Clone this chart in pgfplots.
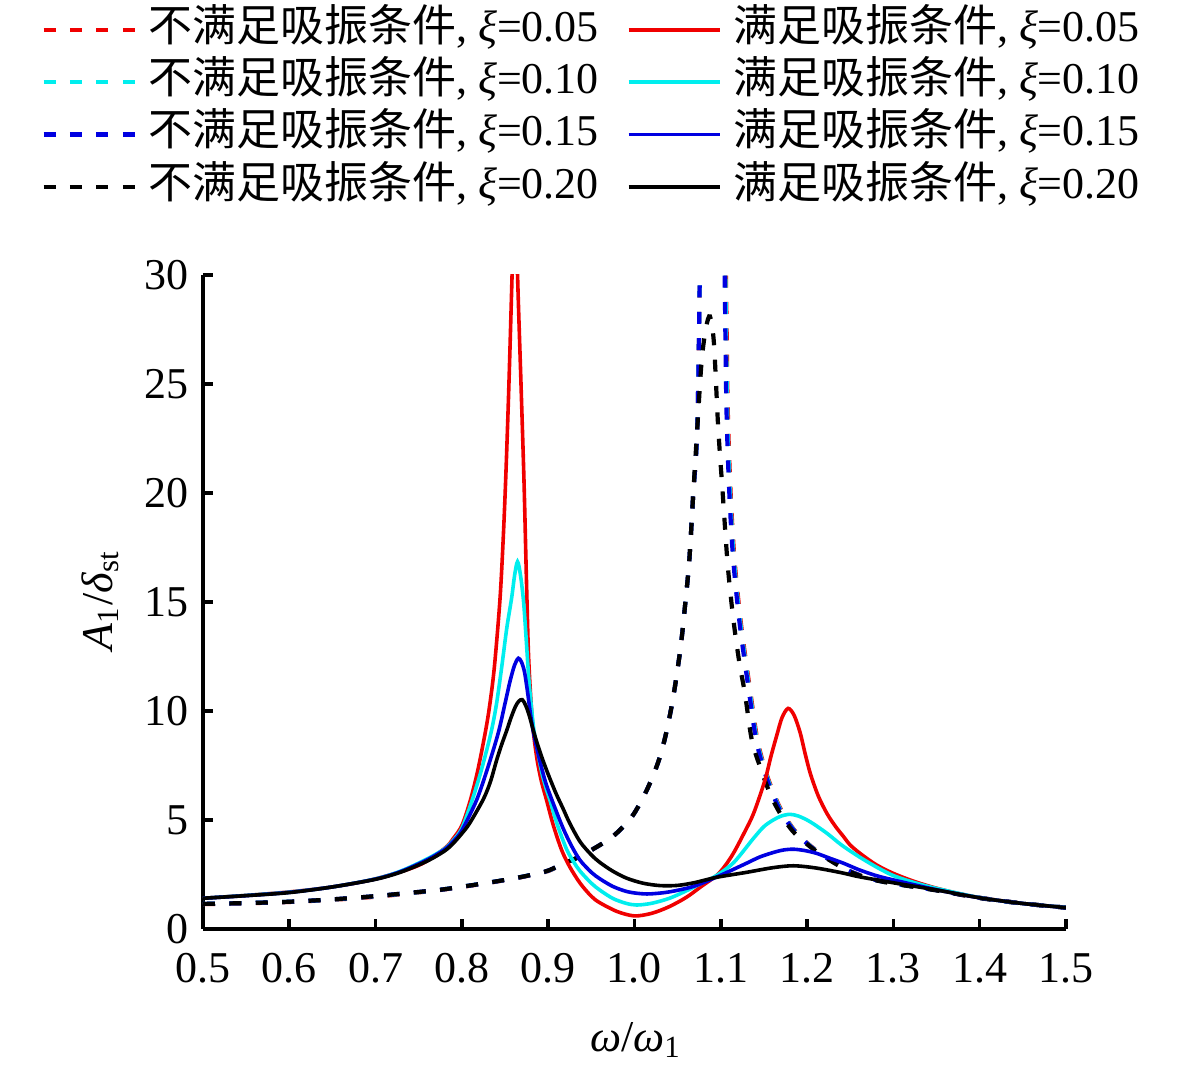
\documentclass[border=0pt]{standalone}
\usepackage{fontspec}
\setmainfont{Liberation Serif}
\newfontfamily\cjk{Noto Sans CJK SC}
\usepackage{pgfplots}
\pgfplotsset{compat=1.18}
\definecolor{cR}{RGB}{240,0,0}
\definecolor{cC}{RGB}{0,238,238}
\definecolor{cB}{RGB}{0,0,225}
\tikzset{dsh/.style={line width=1.05pt, dash pattern=on 3pt off 3.6pt},
         sld/.style={line width=0.9pt}}
\begin{document}
\begin{tikzpicture}
\begin{axis}[
  at={(0pt,0pt)}, anchor=south west,
  scale only axis, width=215.75pt, height=163.5pt,
  xmin=0.5, xmax=1.5, ymin=0, ymax=30,
  axis lines*=left,
  axis line style={line width=0.9pt},
  tick style={line width=0.9pt, black},
  major tick length=2.5pt,
  tick align=inside,
  xtick={0.5,0.6,0.7,0.8,0.9,1.0,1.1,1.2,1.3,1.4,1.5},
  ytick={0,5,10,15,20,25,30},
  tick label style={font=\fontsize{11}{13}\selectfont},
  /pgf/number format/assume math mode=true,
  xticklabel style={yshift=-2.5pt, /pgf/number format/.cd, fixed, fixed zerofill, precision=1},
  yticklabel style={/pgf/number format/.cd, fixed, precision=0},
  ylabel={\textit{A}\textsubscript{1}/\textit{δ}\textsubscript{st}},
  ylabel style={at={(axis description cs:-0.1188,0.503)}, anchor=center, font=\fontsize{11}{13}\selectfont},
  xlabel={\textit{ω}/\textit{ω}\textsubscript{1}},
  xlabel style={at={(axis description cs:0.5017,-0.1697)}, anchor=center, font=\fontsize{11}{13}\selectfont},
  legend columns=2,
  legend cell align=left,
  legend image code/.code={\draw[#1] (0pt,0pt) -- (22.75pt,0pt);},
  legend style={draw=none, fill=none, inner sep=0pt, outer sep=0pt,
    at={(axis description cs:-0.18714,1.41468)}, anchor=north west,
    font=\fontsize{11}{13}\selectfont,
    column sep=1.45pt, row sep=0pt,
    nodes={inner sep=1.45pt, text height=7.9pt, text depth=2.28pt},
    /tikz/every even column/.append style={column sep=5.55pt}},
]
% ---------------- dashed (not satisfying) ----------------
\addplot[cR, dsh, smooth, forget plot] coordinates {
(0.50,1.14) (0.55,1.18) (0.60,1.24) (0.65,1.34) (0.70,1.48) (0.75,1.68) (0.775,1.79) (0.80,1.93)
(0.83,2.11) (0.86,2.31) (0.88,2.47) (0.90,2.66) (0.92,3.03) (0.93,3.2) (0.95,3.62) (0.975,4.25)
(0.997,5.15) (1.014,6.35) (1.027,7.6) (1.035,8.7) (1.042,10.0) (1.048,11.4) (1.054,13.1) (1.059,15.0)
(1.0635,16.9) (1.068,19.9) (1.0728,23.0) (1.0759,30.5) (1.080,42) (1.085,70) (1.09,110) (1.096,70)
(1.1015,42) (1.1058,30.5) (1.108,24) (1.1114,20.0) (1.116,16.9) (1.1237,13.9) (1.1345,10.8)
(1.1423,8.7) (1.1515,7.3) (1.1615,6.2) (1.1715,5.35) (1.186,4.5) (1.2044,3.8) (1.2235,3.26)
(1.25,2.65) (1.275,2.3) (1.30,2.1) (1.35,1.78) (1.40,1.43) (1.45,1.17) (1.50,0.98)};
\addplot[cC, dsh, smooth, forget plot] coordinates {
(0.50,1.15) (0.55,1.19) (0.60,1.25) (0.65,1.35) (0.70,1.50) (0.75,1.69) (0.775,1.80) (0.80,1.94)
(0.83,2.12) (0.86,2.32) (0.88,2.48) (0.90,2.67) (0.92,3.04) (0.93,3.2) (0.95,3.62) (0.975,4.25)
(0.997,5.15) (1.014,6.35) (1.027,7.6) (1.035,8.7) (1.042,10.0) (1.048,11.4) (1.054,13.1) (1.059,15.0)
(1.0635,16.9) (1.068,19.9) (1.0728,23.0) (1.0759,30.5) (1.080,42) (1.085,70) (1.09,110) (1.0955,70)
(1.1008,42) (1.1051,30.5) (1.1073,24) (1.1107,20.0) (1.1153,16.9) (1.123,13.9) (1.1338,10.8)
(1.1416,8.7) (1.1508,7.3) (1.1608,6.2) (1.1708,5.35) (1.1855,4.5) (1.2039,3.8) (1.223,3.26)
(1.25,2.64) (1.275,2.29) (1.30,2.09) (1.35,1.78) (1.40,1.43) (1.45,1.17) (1.50,0.98)};
\addplot[cB, dsh, smooth, forget plot] coordinates {
(0.50,1.15) (0.55,1.19) (0.60,1.25) (0.65,1.36) (0.70,1.51) (0.75,1.70) (0.775,1.80) (0.80,1.94)
(0.83,2.12) (0.86,2.32) (0.88,2.48) (0.90,2.68) (0.92,3.05) (0.93,3.2) (0.95,3.62) (0.975,4.25)
(0.997,5.15) (1.014,6.35) (1.027,7.6) (1.035,8.7) (1.042,10.0) (1.048,11.4) (1.054,13.1) (1.059,15.0)
(1.0635,16.9) (1.068,19.9) (1.0728,23.0) (1.0759,30.5) (1.080,42) (1.085,70) (1.09,110) (1.095,70)
(1.100,42) (1.1043,30.5) (1.1065,24) (1.1099,20.0) (1.1145,16.9) (1.1222,13.9) (1.133,10.8)
(1.1408,8.7) (1.150,7.3) (1.160,6.2) (1.170,5.35) (1.185,4.5) (1.2034,3.8) (1.2227,3.26)
(1.25,2.64) (1.275,2.29) (1.30,2.09) (1.35,1.78) (1.40,1.43) (1.45,1.17) (1.50,0.98)};
\addplot[black, dsh, smooth, forget plot] coordinates {
(0.50,1.15) (0.55,1.19) (0.60,1.25) (0.65,1.36) (0.70,1.51) (0.75,1.70) (0.775,1.80) (0.80,1.94)
(0.83,2.12) (0.86,2.32) (0.88,2.48) (0.90,2.68) (0.92,3.05) (0.93,3.2) (0.95,3.62) (0.975,4.25)
(0.997,5.15) (1.014,6.35) (1.027,7.6) (1.035,8.7) (1.042,10.0) (1.048,11.4) (1.054,13.1) (1.059,15.0)
(1.0635,16.9) (1.068,19.9) (1.0728,23.0) (1.0779,26.1) (1.083,27.6) (1.0875,28.1) (1.092,26.9)
(1.097,23.0) (1.1022,20.0) (1.1076,16.9) (1.112,15.1) (1.1165,13.6) (1.122,12.1) (1.128,10.8)
(1.1358,8.7) (1.1454,7.45) (1.157,6.22) (1.1686,5.31) (1.184,4.46) (1.2034,3.78) (1.2227,3.24)
(1.25,2.62) (1.275,2.28) (1.30,2.08) (1.35,1.77) (1.40,1.42) (1.45,1.17) (1.50,0.98)};
% ---------------- solid (satisfying) ----------------
\addplot[cR, sld, smooth, forget plot] coordinates {
(0.50,1.41) (0.55,1.54) (0.60,1.70) (0.65,1.93) (0.70,2.30) (0.75,2.92) (0.78,3.7) (0.79,4.15)
(0.80,4.75) (0.8094,5.85) (0.818,7.2) (0.8268,8.95) (0.832,10.2) (0.8376,12.0) (0.8441,15.1)
(0.848,18.0) (0.8511,21.0) (0.8545,25.0) (0.8585,30.5) (0.8615,35) (0.8645,30) (0.8685,25)
(0.872,20.5) (0.8745,16.5) (0.877,12.8) (0.8798,10.6) (0.8827,9.1) (0.887,7.8) (0.892,6.8)
(0.8982,5.9) (0.906,4.75) (0.9156,3.62) (0.925,2.85) (0.937,2.1) (0.95,1.5) (0.96,1.2) (0.98,0.8)
(1.0,0.60) (1.02,0.72) (1.04,1.02) (1.06,1.45) (1.077,1.94) (1.095,2.45) (1.105,2.9) (1.115,3.5)
(1.127,4.4) (1.138,5.3) (1.151,6.8) (1.158,7.9) (1.165,8.9) (1.171,9.7) (1.178,10.12) (1.185,9.8)
(1.192,9.0) (1.198,8.0) (1.204,7.1) (1.213,6.1) (1.223,5.3) (1.233,4.7) (1.242,4.25) (1.25,3.85)
(1.262,3.45) (1.28,2.95) (1.30,2.55) (1.325,2.17) (1.35,1.87) (1.375,1.63) (1.40,1.44) (1.45,1.17) (1.50,0.99)};
\addplot[cC, sld, smooth, forget plot] coordinates {
(0.50,1.41) (0.55,1.54) (0.60,1.69) (0.65,1.93) (0.70,2.30) (0.73,2.67) (0.76,3.22) (0.78,3.68)
(0.79,4.07) (0.80,4.62) (0.812,5.92) (0.823,7.35) (0.8337,9.0) (0.840,10.3) (0.8461,12.0)
(0.852,13.8) (0.8577,15.2) (0.861,16.2) (0.8645,16.85) (0.868,16.2) (0.8715,15.0) (0.8745,13.3)
(0.8775,11.5) (0.8805,10.2) (0.8835,9.1) (0.888,8.1) (0.893,7.1) (0.898,6.4) (0.902,5.92) (0.91,4.85)
(0.9214,3.65) (0.93,3.05) (0.937,2.65) (0.95,2.1) (0.96,1.78) (0.975,1.4) (0.99,1.18) (1.0025,1.10)
(1.02,1.18) (1.0406,1.41) (1.06,1.75) (1.077,2.09) (1.095,2.45) (1.115,3.05) (1.1377,4.15) (1.15,4.7)
(1.1608,5.0) (1.17,5.18) (1.18,5.26) (1.19,5.18) (1.2035,4.92) (1.2227,4.4) (1.24,3.85) (1.26,3.32)
(1.28,2.85) (1.30,2.45) (1.325,2.12) (1.35,1.86) (1.40,1.44) (1.45,1.17) (1.50,0.99)};
\addplot[cB, sld, smooth, forget plot] coordinates {
(0.50,1.41) (0.55,1.53) (0.60,1.68) (0.65,1.93) (0.70,2.29) (0.73,2.65) (0.76,3.18) (0.78,3.65)
(0.79,4.02) (0.80,4.52) (0.8171,5.92) (0.83,7.4) (0.8422,9.0) (0.85,10.35) (0.856,11.4) (0.861,12.1)
(0.8654,12.42) (0.869,12.25) (0.8725,11.8) (0.876,10.9) (0.879,10.0) (0.8825,9.1) (0.888,8.1)
(0.893,7.3) (0.898,6.6) (0.9079,5.55) (0.9175,4.6) (0.9272,3.8) (0.937,3.15) (0.95,2.6) (0.96,2.3)
(0.975,1.95) (0.991,1.72) (1.005,1.63) (1.018,1.61) (1.04,1.7) (1.068,1.95) (1.095,2.38) (1.11,2.65)
(1.13,3.02) (1.145,3.3) (1.16,3.5) (1.172,3.62) (1.184,3.66) (1.197,3.6) (1.211,3.47) (1.226,3.25)
(1.242,3.02) (1.26,2.72) (1.28,2.45) (1.30,2.25) (1.35,1.8) (1.40,1.43) (1.45,1.17) (1.50,0.98)};
\addplot[black, sld, smooth, forget plot] coordinates {
(0.50,1.41) (0.55,1.53) (0.60,1.67) (0.65,1.93) (0.70,2.28) (0.73,2.62) (0.76,3.12) (0.78,3.58)
(0.79,3.93) (0.80,4.38) (0.809,4.85) (0.8248,5.95) (0.833,6.75) (0.8403,7.75) (0.846,8.45)
(0.8519,9.1) (0.857,9.7) (0.862,10.2) (0.866,10.45) (0.870,10.52) (0.874,10.25) (0.878,9.8)
(0.8825,9.15) (0.887,8.55) (0.892,7.95) (0.898,7.3) (0.904,6.7) (0.9098,6.15) (0.9175,5.5)
(0.925,4.85) (0.937,4.0) (0.95,3.4) (0.96,3.05) (0.975,2.65) (0.991,2.33) (1.01,2.1) (1.03,1.99)
(1.05,2.0) (1.07,2.13) (1.095,2.37) (1.13,2.6) (1.16,2.81) (1.184,2.9) (1.21,2.8) (1.24,2.58)
(1.26,2.4) (1.30,2.12) (1.35,1.79) (1.40,1.43) (1.45,1.17) (1.50,0.98)};
% ---------------- legend ----------------
\addlegendimage{cR, dsh}
\addlegendentry{{\cjk 不满足吸振条件}, \textit{ξ}=0.05}
\addlegendimage{cR, sld}
\addlegendentry{{\cjk 满足吸振条件}, \textit{ξ}=0.05}
\addlegendimage{cC, dsh}
\addlegendentry{{\cjk 不满足吸振条件}, \textit{ξ}=0.10}
\addlegendimage{cC, sld}
\addlegendentry{{\cjk 满足吸振条件}, \textit{ξ}=0.10}
\addlegendimage{cB, dsh}
\addlegendentry{{\cjk 不满足吸振条件}, \textit{ξ}=0.15}
\addlegendimage{cB, sld}
\addlegendentry{{\cjk 满足吸振条件}, \textit{ξ}=0.15}
\addlegendimage{black, dsh}
\addlegendentry{{\cjk 不满足吸振条件}, \textit{ξ}=0.20}
\addlegendimage{black, sld}
\addlegendentry{{\cjk 满足吸振条件}, \textit{ξ}=0.20}
\end{axis}
\pgfresetboundingbox
\path[use as bounding box] (-50.75pt,-35.75pt) rectangle (244.5pt,232.25pt);
\end{tikzpicture}
\end{document}
